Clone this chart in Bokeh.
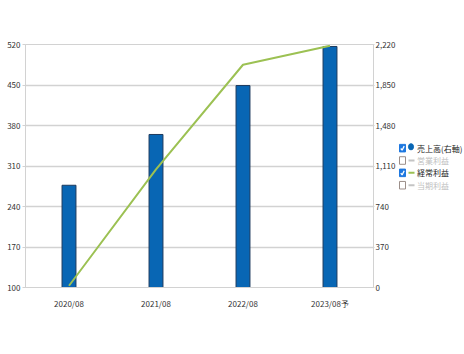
from bokeh.plotting import figure
from bokeh.models import Range1d, LinearAxis, FixedTicker, NumeralTickFormatter, FactorRange
from bokeh.layouts import row
from bokeh.embed import file_html
from bokeh.resources import INLINE
from bokeh.core.properties import value

categories = ["2020/08", "2021/08", "2022/08", "2023/08予"]
sales = [934, 1398, 1845, 2202]
ordinary_profit = [103, 304, 485, 518]
left_ticks = [100, 170, 240, 310, 380, 450, 520]
right_ticks = [0, 370, 740, 1110, 1480, 1850, 2220]
legend_labels = ["売上高(右軸)", "営業利益", "経常利益", "当期利益"]
legend_checked = [True, False, True, False]

FONT = "Noto Sans CJK JP"
BAR = "#0866b4"
GREEN = "#9cc153"
GRID = "#d2d2d2"

W_MAIN = 398

p = figure(x_range=FactorRange(*categories), y_range=Range1d(100, 520),
           width=W_MAIN, height=354, output_backend="svg", toolbar_location=None,
           min_border_left=25, min_border_right=22, min_border_top=44, min_border_bottom=67)
p.extra_y_ranges = {"right": Range1d(0, 2220)}
p.background_fill_color = "white"
p.border_fill_color = "white"
p.outline_line_color = GRID

p.vbar(x=categories, top=sales, width=0.16, y_range_name="right",
       fill_color=BAR, line_color="#1d3a5e", line_width=1)
p.line(x=categories, y=ordinary_profit, line_color=GREEN, line_width=2)

# left axis
ly = p.yaxis[0]
ly.ticker = FixedTicker(ticks=left_ticks)
ly.major_tick_out = 3
ly.major_tick_in = 0
ly.minor_tick_out = 0
ly.minor_tick_in = 0
ly.major_label_standoff = 2
ly.axis_line_color = GRID
ly.major_tick_line_color = GRID

ry = LinearAxis(y_range_name="right", ticker=FixedTicker(ticks=right_ticks),
                formatter=NumeralTickFormatter(format="0,0"))
ry.major_tick_out = 1
ry.major_tick_in = 0
ry.minor_tick_out = 0
ry.minor_tick_in = 0
ry.major_label_standoff = 1
ry.axis_line_color = GRID
ry.major_tick_line_color = GRID
p.add_layout(ry, "right")

xa = p.xaxis[0]
xa.major_tick_out = 0
xa.major_tick_in = 0
xa.major_label_standoff = 10
xa.axis_line_color = GRID

for ax in [ly, ry, xa]:
    ax.major_label_text_font = FONT
    ax.major_label_text_font_size = "8px"
    ax.major_label_text_color = "#333333"

p.xgrid.visible = False
p.ygrid.ticker = FixedTicker(ticks=left_ticks)
p.ygrid.grid_line_color = GRID
p.ygrid.grid_line_width = 1.5

# legend panel
lf = figure(width=464 - W_MAIN, height=354, x_range=Range1d(W_MAIN, 464), y_range=Range1d(354, 0),
            output_backend="svg", toolbar_location=None, min_border=0)
lf.axis.visible = False
lf.grid.visible = False
lf.outline_line_color = None
lf.background_fill_color = "white"
lf.border_fill_color = "white"

ys = [151, 169, 187, 205]
box_fill = ["#1e78e0" if c else "white" for c in legend_checked]
box_line = ["#1e78e0" if c else "#9c8f8a" for c in legend_checked]
lf.rect(x=[402] * 4, y=ys, width=6, height=11, fill_color=box_fill, line_color=box_line, line_width=1)
checks_x = []
checks_y = []
for y, c in zip(ys, legend_checked):
    if c:
        checks_x.append([400.3, 401.6, 403.7])
        checks_y.append([y + 0.5, y + 3, y - 3])
lf.multi_line(xs=checks_x, ys=checks_y, line_color="white", line_width=1.3)

lf.ellipse(x=[410.5], y=[ys[0] - 2], width=5, height=9, fill_color=BAR, line_color=BAR)
seg_colors = ["#c4c4c4", GREEN, "#c4c4c4"]
lf.segment(x0=[408] * 3, y0=ys[1:], x1=[414] * 3, y1=ys[1:], line_color=seg_colors, line_width=2)

txt_colors = ["#222222" if c else "#c0c0c0" for c in legend_checked]
lf.text(x=[416.5] * 4, y=ys, text=legend_labels, text_color=txt_colors,
        text_font=value(FONT), text_font_size="8px", text_baseline="middle", text_align="left")

layout = row(p, lf)
open("out.html", "w").write(file_html(layout, INLINE))
